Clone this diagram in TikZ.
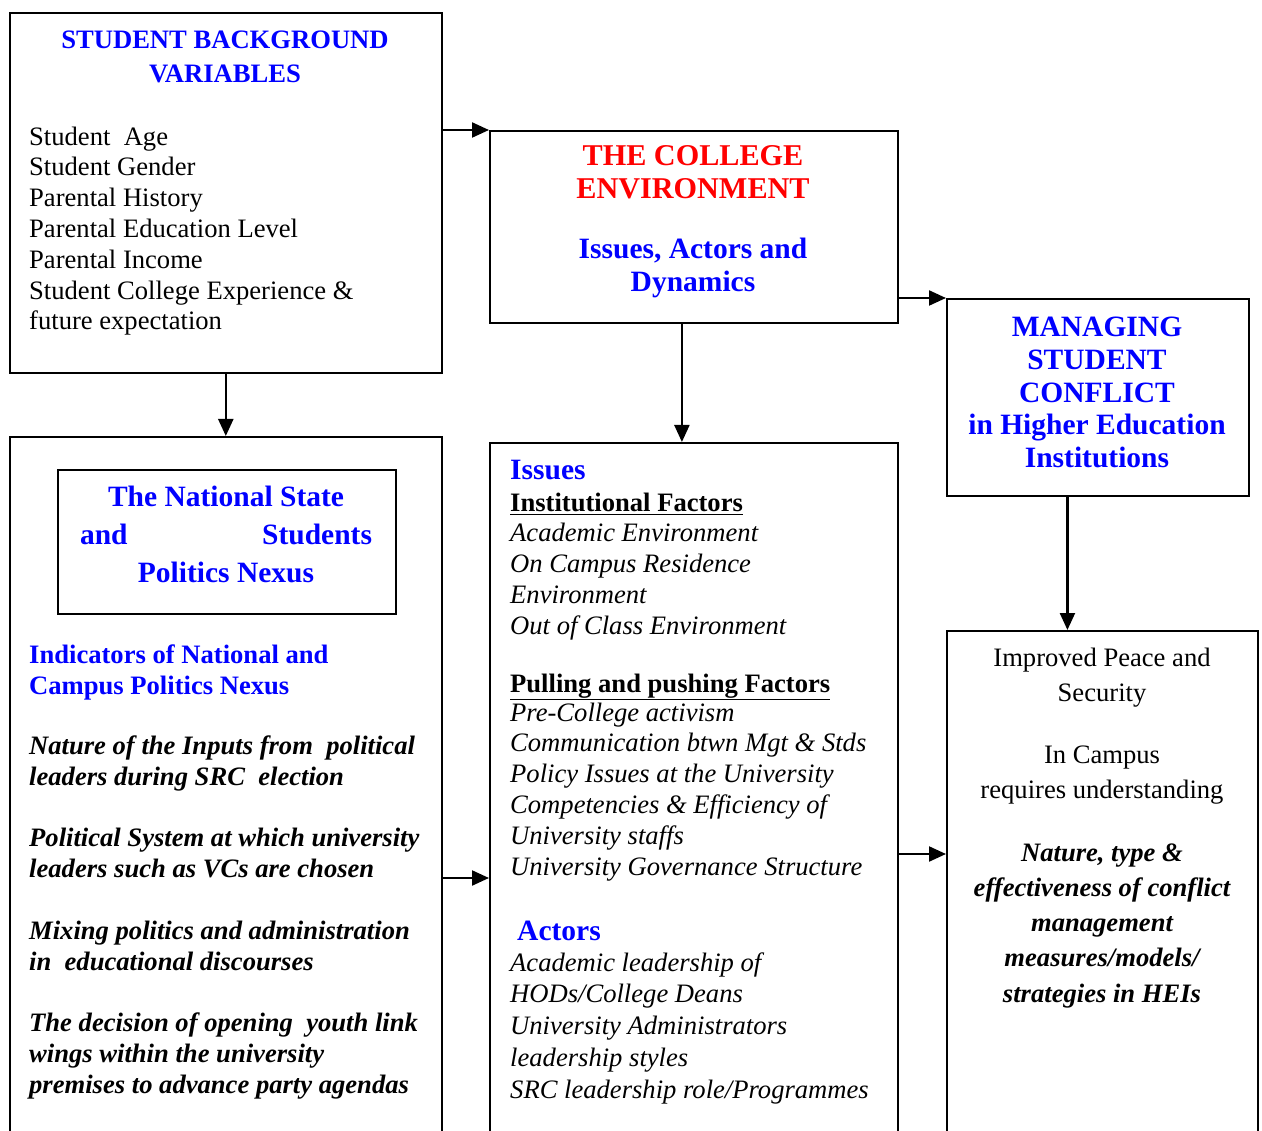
\documentclass[tikz,border=0pt]{standalone}
\usepackage{fontspec}
\setmainfont{Liberation Serif}
\usepackage{xcolor}
\usepackage{tikz}
\usetikzlibrary{arrows.meta,calc}
\newcommand\bodysize{\fontsize{26.6}{30.8}\selectfont}
\newcommand\widesize{\fontsize{29.5}{33}\selectfont}
\tikzset{
  box/.style={draw, line width=1.6pt, inner sep=0pt, anchor=north west},
  arr/.style={line width=2.2pt, -{Triangle[length=17pt,width=15pt]}},
  txt/.style={inner sep=0pt, anchor=base west, align=left, font=\bodysize},
  ctxt/.style={inner sep=0pt, anchor=base, align=center, font=\bodysize},
  bluehead/.style={text=blue, font=\bodysize\bfseries},
  widehead/.style={text=blue, font=\widesize\bfseries},
}
\begin{document}
\begin{tikzpicture}[x=1pt,y=-1pt]
\useasboundingbox (0,0) rectangle (1262,1131);
\clip (0,0) rectangle (1262,1131);
\node[box, minimum width=432pt, minimum height=360pt] (bg) at (9,12) {};
\node[box, minimum width=408pt, minimum height=192pt] (env) at (489,130) {};
\node[box, minimum width=302pt, minimum height=197pt] (mgmt) at (946,298) {};
\node[box, minimum width=432pt, minimum height=730pt] (nexus) at (9,436) {};
\node[box, minimum width=338pt, minimum height=144pt] (natl) at (57,469) {};
\node[box, minimum width=408pt, minimum height=730pt] (issues) at (489,442) {};
\node[box, minimum width=311pt, minimum height=530pt] (peace) at (946,630) {};

% text nodes sit on the baseline of their last line
\node[ctxt, bluehead, font=\fontsize{26.6}{34}\selectfont\bfseries] (bgtitle) at (225,83) {STUDENT BACKGROUND\\VARIABLES};
\node[txt] (bglist) at (29,330) {Student~~Age\\Student Gender\\Parental History\\Parental Education Level\\Parental Income\\Student College Experience \&\\future expectation};

\node[ctxt, text=red, font=\fontsize{30.2}{33}\selectfont\bfseries] (envtitle) at (693,199) {THE COLLEGE\\ENVIRONMENT};
\node[ctxt, widehead] (envsub) at (693,292) {Issues, Actors and\\Dynamics};

\node[ctxt, widehead] (mgmttitle) at (1097,468) {MANAGING\\STUDENT\\CONFLICT\\in Higher Education\\Institutions};

\node[ctxt, widehead, font=\fontsize{29.5}{38}\selectfont\bfseries] (natltitle) at (226,582) {The National State\\\makebox[292pt][s]{and\hfill Students}\\Politics Nexus};
\node[txt, bluehead] (indic) at (29,694) {Indicators of National and\\Campus Politics Nexus};
\node[txt, font=\bodysize\bfseries\itshape] (ind1) at (29,785) {Nature of the Inputs from~~political\\leaders during SRC~~election};
\node[txt, font=\bodysize\bfseries\itshape] (ind2) at (29,877) {Political System at which university\\leaders such as VCs are chosen};
\node[txt, font=\bodysize\bfseries\itshape] (ind3) at (29,970) {Mixing politics and administration\\in~~educational discourses};
\node[txt, font=\bodysize\bfseries\itshape] (ind4) at (29,1093) {The decision of opening~~youth link\\wings within the university\\premises to advance party agendas};

\node[txt, widehead] (isshead) at (510,480) {Issues};
\node[txt, font=\bodysize\bfseries] (instf) at (510,512) {\underline{Institutional Factors}};
\node[txt, font=\bodysize\itshape] (instlist) at (510,634) {Academic Environment\\On Campus Residence\\Environment\\Out of Class Environment};
\node[txt, font=\bodysize\bfseries] (pullf) at (510,692) {\underline{Pulling and pushing Factors}};
\node[txt, font=\bodysize\itshape] (pulllist) at (510,875) {Pre-College activism\\Communication btwn Mgt \& Stds\\Policy Issues at the University\\Competencies \& Efficiency of\\University staffs\\University Governance Structure};
\node[txt, widehead] (acthead) at (517,940) {Actors};
\node[txt, font=\fontsize{26.6}{31.75}\selectfont\itshape] (actlist) at (510,1098) {Academic leadership of\\HODs/College Deans\\University Administrators\\leadership styles\\SRC leadership role/Programmes};

\node[ctxt, font=\fontsize{26.6}{35}\selectfont] (peace1) at (1102,701) {Improved Peace and\\Security};
\node[ctxt, font=\fontsize{26.6}{35}\selectfont] (peace2) at (1102,798) {In Campus\\requires understanding};
\node[ctxt, font=\fontsize{26.6}{35.25}\selectfont\bfseries\itshape] (peace3) at (1102,1002) {Nature, type \&\\effectiveness of conflict\\management\\measures/models/\\strategies in HEIs};

\coordinate (envdown) at ($(env.south west)!0.471!(env.south east)$);
\coordinate (mgmtdown) at ($(mgmt.south west)!0.4!(mgmt.south east)$);
\coordinate (leftlink) at (0,878);
\coordinate (rightlink) at (0,854);
\draw[arr] (bg.east |- env.north west) -- (env.north west);
\draw[arr] (env.east |- mgmt.north west) -- (mgmt.north west);
\draw[arr] (bg.south) -- (bg.south |- nexus.north);
\draw[arr] (envdown) -- (envdown |- issues.north);
\draw[arr] (mgmtdown) -- (mgmtdown |- peace.north);
\draw[arr] (nexus.east |- leftlink) -- (issues.west |- leftlink);
\draw[arr] (issues.east |- rightlink) -- (peace.west |- rightlink);
\end{tikzpicture}
\end{document}
